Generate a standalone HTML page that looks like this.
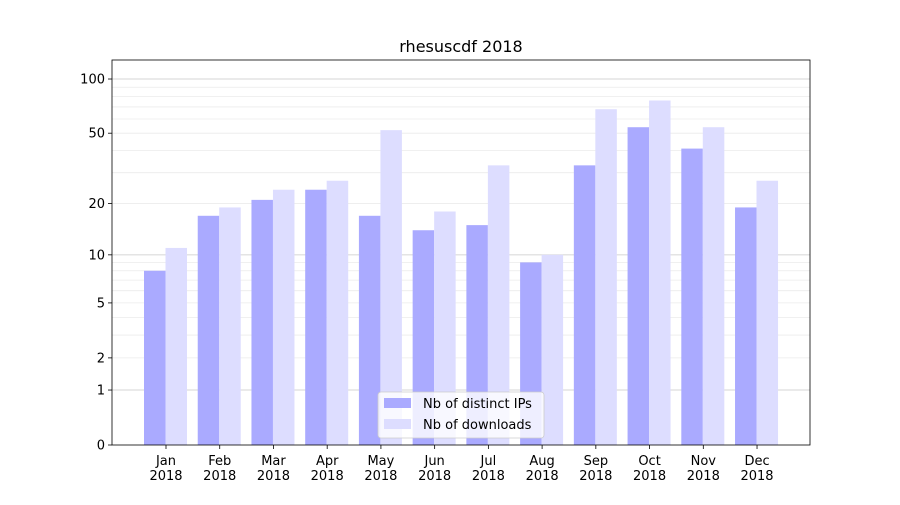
<!DOCTYPE html>
<html><head><meta charset="utf-8"><style>body{margin:0;background:#fff}svg text{font-family:"DejaVu Sans","Liberation Sans",sans-serif}</style></head>
<body>
<svg id="chart" width="900" height="500" xmlns="http://www.w3.org/2000/svg"></svg>
<script>
const months = ["Jan","Feb","Mar","Apr","May","Jun","Jul","Aug","Sep","Oct","Nov","Dec"];
const ips = [8,17,21,24,17,14,15,9,33,54,41,19];
const downloads = [11,19,24,27,52,18,33,10,68,76,54,27];
const tickValues = [0,1,2,5,10,20,50,100];
const minorValues = [2,3,4,5,6,7,8,9,20,30,40,50,60,70,80,90];
const majorValues = [1,10,100];

const svg = document.getElementById('chart');
const NS = 'http://www.w3.org/2000/svg';
const L=112,R=810,T=60,B=445,K=182.6;
function y(v){return B-Math.log10(1+v)*K;}
function xc(i){return 166+i*53.73;}
function add(tag,attrs,parent){const e=document.createElementNS(NS,tag);for(const k in attrs)e.setAttribute(k,attrs[k]);(parent||svg).appendChild(e);return e;}

minorValues.forEach(v=>{const l=add('line',{x1:L,x2:R,y1:y(v),y2:y(v),stroke:'#ebebeb','stroke-width':0.8});

});
majorValues.forEach(v=>{const l=add('line',{x1:L,x2:R,y1:y(v),y2:y(v),stroke:'#c8c8c8','stroke-width':0.8});

});

months.forEach((m,i)=>{
  const b1=add('rect',{x:xc(i)-22,y:y(ips[i]),width:21.5,height:B-y(ips[i]),fill:'#aaaaff'});
  
  
  const b2=add('rect',{x:xc(i)-0.5,y:y(downloads[i]),width:21.5,height:B-y(downloads[i]),fill:'#ddddff'});
  
  
  add('line',{x1:xc(i),x2:xc(i),y1:B,y2:B+4,stroke:'#000','stroke-width':0.8});
  const t=add('text',{x:xc(i),y:B+20,'text-anchor':'middle','font-size':13});
  t.textContent=m;
  
  
  const t2=add('text',{x:xc(i),y:B+35,'text-anchor':'middle','font-size':13});
  t2.textContent='2018';
  
  
});

tickValues.forEach(v=>{
  add('line',{x1:L-4,x2:L,y1:y(v),y2:y(v),stroke:'#000','stroke-width':0.8});
  const t=add('text',{x:L-7,y:y(v)+4.5,'text-anchor':'end','font-size':13});
  t.textContent=v;
  
  
});

const frame=add('rect',{x:L,y:T,width:R-L,height:B-T,fill:'none',stroke:'#000','stroke-width':0.8});



const title=add('text',{x:461,y:52,'text-anchor':'middle','font-size':16});
title.textContent='rhesuscdf 2018';



const lg=add('g',{});


add('rect',{x:378,y:392,width:166,height:46,rx:3,fill:'#fff','fill-opacity':0.8,stroke:'#ccc','stroke-width':0.8},lg);
add('rect',{x:384,y:398,width:27,height:10,fill:'#aaaaff'},lg);
add('rect',{x:384,y:419,width:27,height:10,fill:'#ddddff'},lg);
const l1=add('text',{x:423,y:408,'font-size':13},lg);l1.textContent='Nb of distinct IPs';


const l2=add('text',{x:423,y:429,'font-size':13},lg);l2.textContent='Nb of downloads';


</script>
</body></html>
